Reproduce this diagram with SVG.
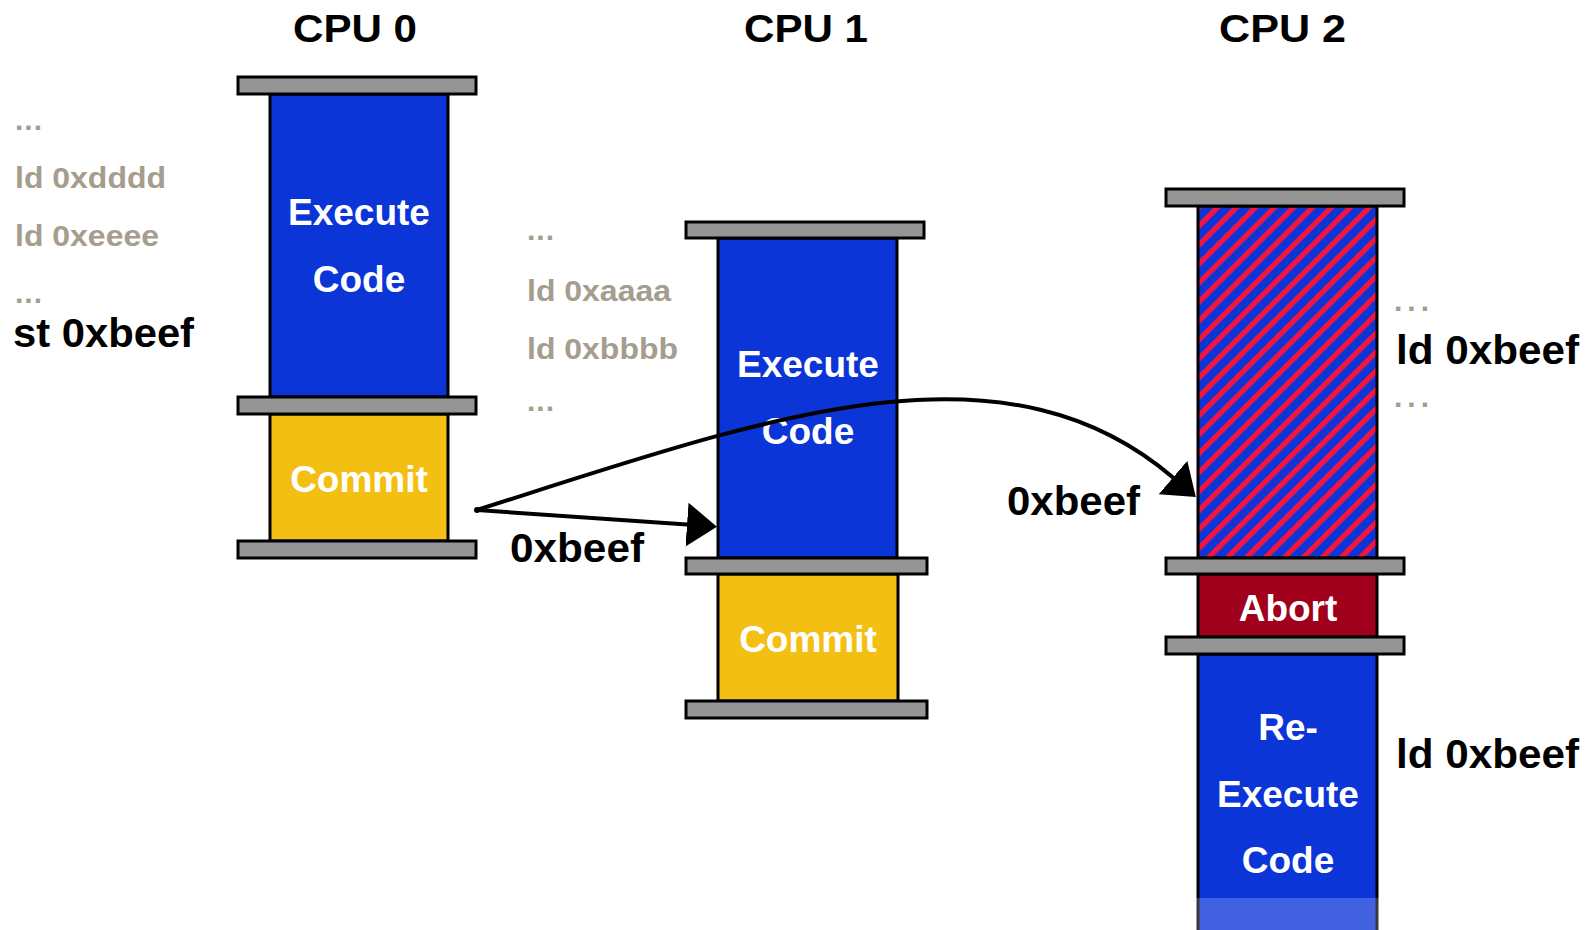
<svg xmlns="http://www.w3.org/2000/svg" width="1596" height="930" viewBox="0 0 1596 930">
<style>
text{font-family:"Liberation Sans",Arial,sans-serif;font-weight:bold}
.title{font-size:38px;fill:#000}
.box{font-size:37px;fill:#fff;text-anchor:middle}
.grey{font-size:30px;fill:#a59d8d}
.dots{font-size:30px;fill:#a59d8d}
.lbl{font-size:40px;fill:#000}
.bar{fill:#959595;stroke:#000;stroke-width:3}
.blue{fill:#0c35d8;stroke:#000;stroke-width:3}
.yellow{fill:#f4bf13;stroke:#000;stroke-width:3}
.abort{fill:#a0001c;stroke:#000;stroke-width:3}
.hatch{fill:url(#stripes);stroke:#000;stroke-width:3}
.conn{fill:none;stroke:#000;stroke-width:4;stroke-linecap:round}
</style>
<defs>
<pattern id="stripes" patternUnits="userSpaceOnUse" width="13.4" height="13.4" patternTransform="rotate(45)">
<rect x="0" y="0" width="13.4" height="13.4" fill="#0c35d8"/>
<rect x="0" y="0" width="5.3" height="13.4" fill="#f5143e"/>
</pattern>
<marker id="head" markerUnits="userSpaceOnUse" markerWidth="31" markerHeight="45" viewBox="0 0 31 44" refX="0" refY="22" orient="auto">
<path d="M0,0 L30,22 L0,44 Z" fill="#000"/>
</marker>
</defs>
<rect width="1596" height="930" fill="#fff"/>

<g id="titles">
<text class="title" x="293" y="42" textLength="124" lengthAdjust="spacingAndGlyphs">CPU 0</text>
<text class="title" x="744" y="42" textLength="124" lengthAdjust="spacingAndGlyphs">CPU 1</text>
<text class="title" x="1219" y="42" textLength="127" lengthAdjust="spacingAndGlyphs">CPU 2</text>
</g>

<g id="cpu0-code">
<text class="dots" x="15" y="130" letter-spacing="1">...</text>
<text class="grey" x="15" y="188" textLength="151" lengthAdjust="spacingAndGlyphs">ld 0xdddd</text>
<text class="grey" x="15" y="246" textLength="144" lengthAdjust="spacingAndGlyphs">ld 0xeeee</text>
<text class="dots" x="15" y="303" letter-spacing="1">...</text>
<text class="lbl" x="13" y="347" textLength="181" lengthAdjust="spacingAndGlyphs">st 0xbeef</text>
</g>

<g id="cpu1-code">
<text class="dots" x="527" y="240" letter-spacing="1">...</text>
<text class="grey" x="527" y="301" textLength="144" lengthAdjust="spacingAndGlyphs">ld 0xaaaa</text>
<text class="grey" x="527" y="359" textLength="151" lengthAdjust="spacingAndGlyphs">ld 0xbbbb</text>
<text class="dots" x="527" y="411" letter-spacing="1">...</text>
</g>

<g id="cpu2-code">
<text class="dots" x="1394" y="311" letter-spacing="5">...</text>
<text class="lbl" x="1396" y="364" textLength="183" lengthAdjust="spacingAndGlyphs">ld 0xbeef</text>
<text class="dots" x="1394" y="407" letter-spacing="5">...</text>
<text class="lbl" x="1396" y="768" textLength="183" lengthAdjust="spacingAndGlyphs">ld 0xbeef</text>
</g>

<g id="cpu0">
<rect class="blue" x="270" y="94" width="178" height="303"/>
<rect class="yellow" x="270" y="414" width="178" height="127"/>
<rect class="bar" x="238" y="77" width="238" height="17"/>
<rect class="bar" x="238" y="397" width="238" height="17"/>
<rect class="bar" x="238" y="541" width="238" height="17"/>
<text class="box" x="359" y="225">Execute</text>
<text class="box" x="359" y="292">Code</text>
<text class="box" x="359" y="492">Commit</text>
</g>

<g id="cpu1">
<rect class="blue" x="718" y="238" width="179" height="320"/>
<rect class="yellow" x="718" y="574" width="180" height="127"/>
<rect class="bar" x="686" y="222" width="238" height="16"/>
<rect class="bar" x="686" y="558" width="241" height="16"/>
<rect class="bar" x="686" y="701" width="241" height="17"/>
<text class="box" x="808" y="377">Execute</text>
<text class="box" x="808" y="444">Code</text>
<text class="box" x="808" y="652">Commit</text>
</g>

<g id="cpu2">
<rect class="hatch" x="1198" y="206" width="179" height="352"/>
<rect class="abort" x="1198" y="574" width="179" height="63"/>
<rect class="blue" x="1198" y="654" width="179" height="290"/>
<rect x="1196" y="898" width="183" height="32" fill="#fff" fill-opacity="0.22"/>
<rect class="bar" x="1166" y="189" width="238" height="17"/>
<rect class="bar" x="1166" y="558" width="238" height="16"/>
<rect class="bar" x="1166" y="637" width="238" height="17"/>
<text class="box" x="1288" y="621">Abort</text>
<text class="box" x="1288" y="740">Re-</text>
<text class="box" x="1288" y="807">Execute</text>
<text class="box" x="1288" y="873">Code</text>
</g>

<g id="connectors">
<path class="conn" d="M477,510 L687,524.6" marker-end="url(#head)"/>
<path class="conn" d="M477,510 C760,420 1000,330 1173,477.5" marker-end="url(#head)"/>
<circle cx="477" cy="510" r="3" fill="#000"/>
<text class="lbl" x="510" y="562" textLength="134" lengthAdjust="spacingAndGlyphs">0xbeef</text>
<text class="lbl" x="1007" y="515" textLength="133" lengthAdjust="spacingAndGlyphs">0xbeef</text>
</g>
</svg>
